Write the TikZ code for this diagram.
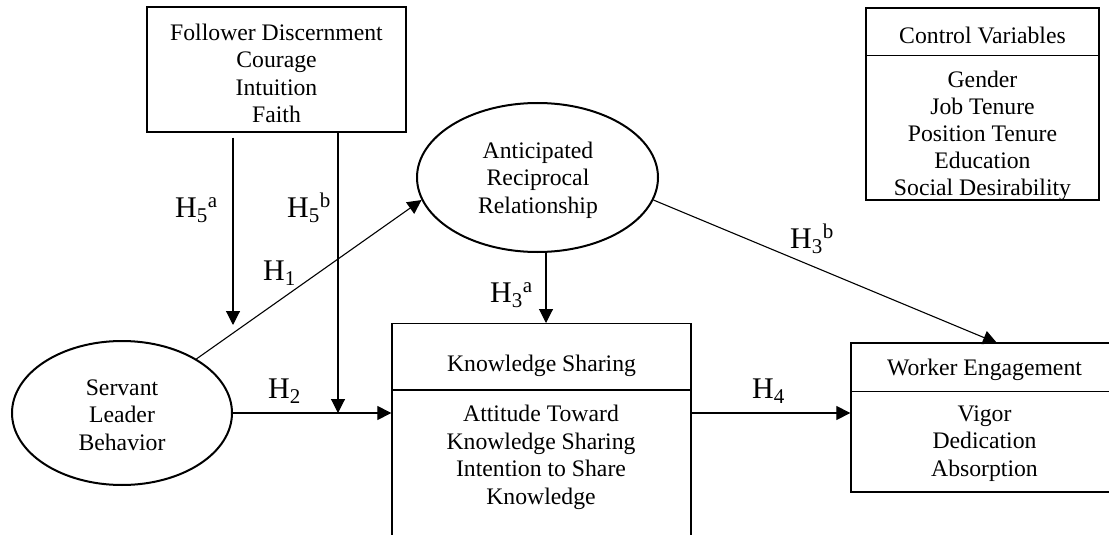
\documentclass[tikz,border=0pt]{standalone}
\usepackage{fontspec}
\setmainfont{Liberation Serif}
\usetikzlibrary{arrows.meta,shapes.geometric}

\begin{document}
\begin{tikzpicture}[x=1pt,y=-1pt,
  box/.style={draw, line width=1.3pt, rectangle, inner sep=0pt},
  oval/.style={draw, ellipse, line width=2pt, inner sep=0pt},
  divider/.style={line width=1.3pt},
  txt/.style={align=center, inner sep=0pt, font=\fontsize{23.7}{27.5}\selectfont},
  hlab/.style={anchor=base west, inner sep=0pt, font=\fontsize{30}{36}\selectfont},
  arr/.style={line width=1.1pt, -{Triangle[length=14pt,width=14pt]}}]

\useasboundingbox (0,0) rectangle (1109,535);
\clip (0,0) rectangle (1109,535);

% moderator box
\node[box, minimum width=259pt, minimum height=125pt] (fol) at (276.5,69.5) {};
\node[txt] (foltxt) at (276.5,73.5) {Follower Discernment\\Courage\\Intuition\\Faith};

% latent constructs
\node[oval, minimum width=241pt, minimum height=149pt] (ant) at (537.5,177.5) {};
\node[txt] (anttxt) at (538,180) {Anticipated\\Reciprocal\\Relationship};

\node[oval, minimum width=220pt, minimum height=144pt] (srv) at (122,413) {};
\node[txt] (srvtxt) at (122,415) {Servant\\Leader\\Behavior};

% knowledge sharing (open at the bottom edge)
\node[box, minimum width=299pt, minimum height=260pt, anchor=north] (ks) at (541.5,323) {};
\draw[divider] (ks.north west) ++(0,67) -- ++(299,0);
\node[txt] (kshead) at (541.5,365.5) {Knowledge Sharing};
\node[txt] (ksbody) at (541,457.5) {Attitude Toward\\Knowledge Sharing\\Intention to Share\\Knowledge};

% worker engagement
\node[box, minimum width=269pt, minimum height=149pt] (we) at (985.5,417.5) {};
\draw[divider] (we.north west) ++(0,49) -- ++(269,0);
\node[txt] (wehead) at (984.5,370) {Worker Engagement};
\node[txt] (webody) at (984.5,443.5) {Vigor\\Dedication\\Absorption};

% control variables
\node[box, minimum width=233pt, minimum height=192pt] (cv) at (982.5,104) {};
\draw[divider] (cv.north west) ++(0,48) -- ++(233,0);
\node[txt] (cvhead) at (982.5,35) {Control Variables};
\node[txt, font=\fontsize{23.7}{27}\selectfont] (cvbody) at (982.5,136) {Gender\\Job Tenure\\Position Tenure\\Education\\Social Desirability};

% connector end points
\coordinate (j2) at (338,413);
\coordinate (m1) at (233,325);
\coordinate (ksin) at (546,323);
\coordinate (wein) at (997,343);

% paths
\draw[arr] (srv.36) -- (ant.191);
\draw[arr] (srv.east) -- (srv.east -| ks.west);
\draw[arr] (fol.south -| j2) -- (j2);
\draw[arr] ([yshift=-5pt]fol.south -| m1) -- (m1);
\draw[arr] (ksin |- ant.south) -- (ksin);
\draw[arr] (ant.-11) -- (wein);
\draw[arr] (ks.east |- srv.east) -- (we.west |- srv.east);

% hypothesis labels
\node[hlab] (l5a) at (175,217) {H\textsubscript{5}\textsuperscript{a}};
\node[hlab] (l5b) at (287,217) {H\textsubscript{5}\textsuperscript{b}};
\node[hlab] (l1) at (263,280) {H\textsubscript{1}};
\node[hlab] (l2) at (268,398) {H\textsubscript{2}};
\node[hlab] (l3a) at (490,302) {H\textsubscript{3}\textsuperscript{a}};
\node[hlab] (l3b) at (790,248) {H\textsubscript{3}\textsuperscript{b}};
\node[hlab] (l4) at (752,398) {H\textsubscript{4}};
\end{tikzpicture}
\end{document}
